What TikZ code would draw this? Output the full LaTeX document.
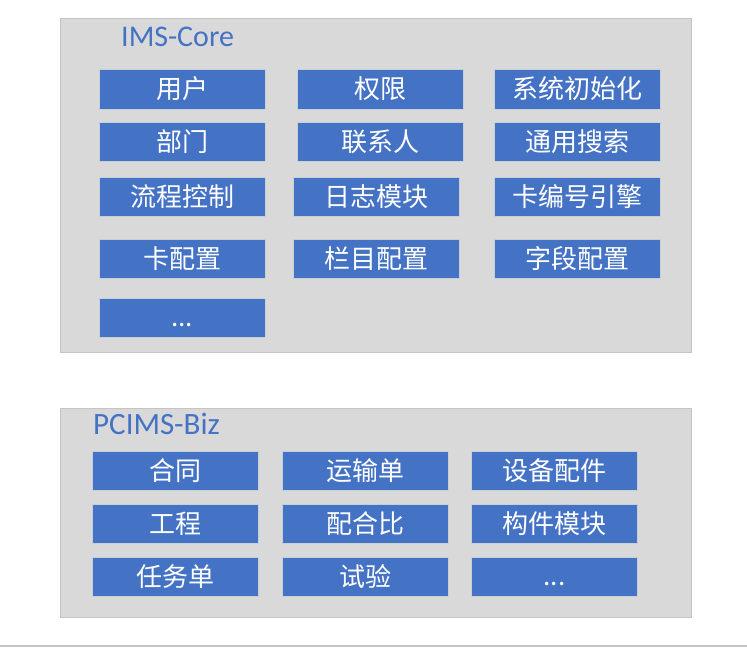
\documentclass[tikz,border=0pt]{standalone}
\usepackage{fontspec}
\setmainfont{Carlito}
\newfontfamily\cjk{Noto Sans CJK SC}
\definecolor{panelfill}{HTML}{D9D9D9}
\definecolor{panelline}{HTML}{C4C4C4}
\definecolor{modblue}{HTML}{4472C4}
\definecolor{modline}{HTML}{C9CFD9}
\begin{document}
\begin{tikzpicture}[x=1pt,y=-1pt,
  panel/.style={draw=panelline,fill=panelfill,line width=1.2pt,inner sep=0pt,anchor=north west},
  title/.style={text=modblue,font=\fontsize{30}{30}\selectfont,anchor=base west,inner sep=0pt},
  mod/.style={draw=modline,fill=modblue,line width=1pt,text=white,inner sep=0pt,
    minimum width=166pt,minimum height=39pt,font=\cjk\fontsize{26}{26}\selectfont}]
\useasboundingbox (0,0) rectangle (747,648);
% core panel
\node[panel,minimum width=631pt,minimum height=334pt] (core) at (60,18) {};
\node[title] (coret) at (121,46) {IMS-Core};
\node[mod,minimum height=40pt] (c11) at (182,89) {用户};
\node[mod,minimum height=40pt] (c12) at (380,89) {权限};
\node[mod,minimum height=40pt] (c13) at (577.5,89) {系统初始化};
\node[mod] (c21) at (182,142) {部门};
\node[mod] (c22) at (380,142) {联系人};
\node[mod] (c23) at (577.5,142) {通用搜索};
\node[mod] (c31) at (182,197) {流程控制};
\node[mod] (c32) at (376,197) {日志模块};
\node[mod] (c33) at (577.5,197) {卡编号引擎};
\node[mod] (c41) at (182,258.5) {卡配置};
\node[mod] (c42) at (376,258.5) {栏目配置};
\node[mod] (c43) at (577.5,258.5) {字段配置};
\node[mod] (c51) at (182,317.5) {\vphantom{用}...};
% business panel
\node[panel,minimum width=631pt,minimum height=209pt] (biz) at (60,408) {};
\node[title,font=\fontsize{31}{31}\selectfont] (bizt) at (93,434) {PCIMS-Biz};
\node[mod] (b11) at (175,470.5) {合同};
\node[mod] (b12) at (365,470.5) {运输单};
\node[mod] (b13) at (554.5,470.5) {设备配件};
\node[mod] (b21) at (175,523.5) {工程};
\node[mod] (b22) at (365,523.5) {配合比};
\node[mod] (b23) at (554.5,523.5) {构件模块};
\node[mod] (b31) at (175,576.5) {任务单};
\node[mod] (b32) at (365,576.5) {试验};
\node[mod] (b33) at (554.5,576.5) {\vphantom{用}...};
% rule along the bottom edge
\draw[panelline,line width=1.5pt] (0,646) -- (747,646);
\end{tikzpicture}
\end{document}
